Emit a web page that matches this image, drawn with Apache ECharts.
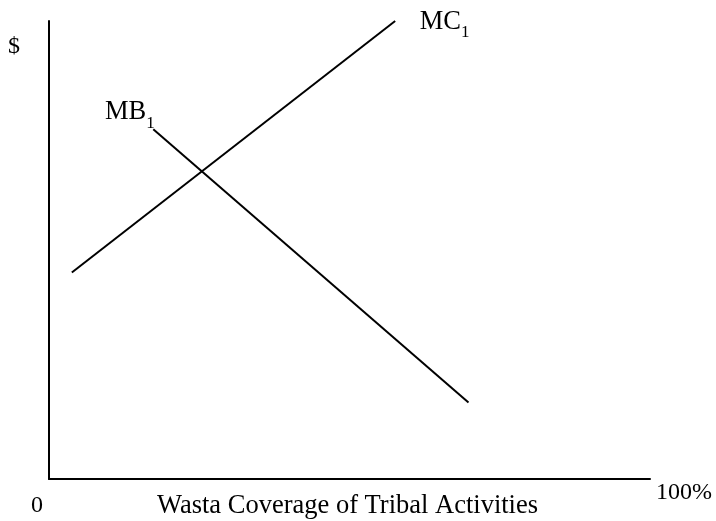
<!DOCTYPE html>
<html>
<head>
<meta charset="utf-8">
<title>Wasta</title>
<script src="https://cdn.jsdelivr.net/npm/echarts@6/dist/echarts.min.js"></script>
<style>
  html, body { margin: 0; padding: 0; background: #fff; }
  #chart { width: 716px; height: 521px; }
</style>
</head>
<body>
<div id="chart"></div>
<script>
// curve end points, x = % coverage, y = $
const mcPoints = [[3.8, 45.1], [57.6, 100]]
const mbPoints = [[17.35, 76.35], [69.8, 16.7]]
const curveNames = ['MC', 'MB']
const xTickLabels = ['0', '100%']
const xTitle = 'Wasta Coverage of Tribal Activities'
const yTitle = '$'

const serif = 'Liberation Serif'
const fs = 24

const chart = echarts.init(document.getElementById('chart'))

const curveLabel = (name, extra) => Object.assign({
  show: true,
  formatter: '{m|' + name + '}{s|1}',
  rich: {
    m: {fontFamily: serif, fontSize: 26.5, color: '#000', padding: [0, 0, 6, 0]},
    s: {fontFamily: serif, fontSize: 17, color: '#000', verticalAlign: 'bottom'}
  }
}, extra)

const hidden = {color: 'rgba(0,0,0,0)'}

const option = {
  backgroundColor: '#fff',
  animation: false,
  title: {
    text: xTitle,
    left: 157,
    top: 493,
    padding: 0,
    textStyle: {fontFamily: serif, fontSize: 26.5, fontWeight: 'normal', color: '#000'}
  },
  graphic: [
    {type: 'text', left: 8, top: 35, style: {text: yTitle, font: fs + 'px "' + serif + '"', fill: '#000'}},
    {type: 'text', left: 31, top: 494, style: {text: xTickLabels[0], font: fs + 'px "' + serif + '"', fill: '#000'}}
  ],
  grid: {left: 49, right: 66, top: 21, bottom: 42},
  xAxis: {
    type: 'value',
    min: 0,
    max: 100,
    name: xTickLabels[1],
    nameLocation: 'end',
    nameGap: 6,
    nameTextStyle: {fontFamily: serif, fontSize: fs, color: '#000', verticalAlign: 'top', padding: [2, 0, 0, 0]},
    axisLine: {lineStyle: {color: '#000', width: 2}},
    axisTick: {show: false},
    axisLabel: {show: false},
    splitLine: {show: false}
  },
  yAxis: {
    type: 'value',
    min: 0,
    max: 100,
    axisLine: {show: true, lineStyle: {color: '#000', width: 2}},
    axisTick: {show: false},
    axisLabel: {show: false},
    splitLine: {show: false}
  },
  series: [
    {
      name: curveNames[0],
      type: 'line',
      symbol: 'circle',
      symbolSize: 1,
      showSymbol: true,
      itemStyle: hidden,
      lineStyle: {color: '#000', width: 2},
      data: [
        mcPoints[0],
        {value: mcPoints[1], label: curveLabel(curveNames[0], {position: 'right', distance: 24, offset: [0, 4]})}
      ]
    },
    {
      name: curveNames[1],
      type: 'line',
      symbol: 'circle',
      symbolSize: 1,
      showSymbol: true,
      itemStyle: hidden,
      lineStyle: {color: '#000', width: 2},
      data: [
        {value: mbPoints[0], label: curveLabel(curveNames[1], {position: 'left', distance: 0, offset: [2, -14]})},
        mbPoints[1]
      ]
    }
  ]
}

chart.setOption(option)
</script>
</body>
</html>
